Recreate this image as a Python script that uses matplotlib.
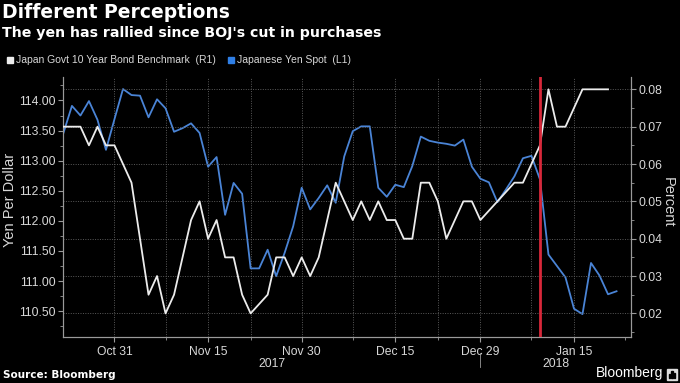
import matplotlib.pyplot as plt
import numpy as np
import pandas as pd
from matplotlib.patches import Rectangle

# business days shown on the chart (Bloomberg skips weekends)
days = pd.bdate_range("2017-10-23", "2018-01-23")

# Japanese Yen Spot (left axis), Oct 23 2017 .. Jan 22 2018
yen_spot = [113.46, 113.91, 113.75, 113.99, 113.68, 113.18, 113.69, 114.19, 114.09, 114.08,
            113.72, 114.02, 113.87, 113.48, 113.54, 113.62, 113.46, 112.90, 113.06, 112.10,
            112.63, 112.45, 111.21, 111.21, 111.52, 111.08, 111.47, 111.91, 112.55, 112.19,
            112.38, 112.59, 112.30, 113.07, 113.49, 113.57, 113.57, 112.55, 112.40, 112.60,
            112.56, 112.91, 113.40, 113.33, 113.30, 113.28, 113.25, 113.35, 112.90, 112.70,
            112.64, 112.31, 112.52, 112.74, 113.04, 113.08, 112.69, 111.44, 111.25, 111.06,
            110.54, 110.45, 111.30, 111.09, 110.78, 110.83]

# Japan Govt 10 Year Bond Benchmark yield (right axis), one day shorter
jgb_10y = [0.070, 0.070, 0.070, 0.065, 0.070, 0.065, 0.065, 0.060, 0.055, 0.040,
           0.025, 0.030, 0.020, 0.025, 0.035, 0.045, 0.050, 0.040, 0.045, 0.035,
           0.035, 0.025, 0.020, 0.0225, 0.025, 0.035, 0.035, 0.030, 0.035, 0.030,
           0.035, 0.045, 0.055, 0.050, 0.045, 0.050, 0.045, 0.050, 0.045, 0.045,
           0.040, 0.040, 0.055, 0.055, 0.050, 0.040, 0.045, 0.050, 0.050, 0.045,
           0.0475, 0.050, 0.0525, 0.055, 0.055, 0.060, 0.065, 0.080, 0.070, 0.070,
           0.075, 0.080, 0.080, 0.080, 0.080]

label_dates = ["2017-10-31", "2017-11-15", "2017-11-30", "2017-12-15", "2017-12-29", "2018-01-15"]
label_text = ["Oct 31", "Nov 15", "Nov 30", "Dec 15", "Dec 29", "Jan 15"]
minor_dates = ["2017-11-08", "2017-11-22", "2017-12-08", "2017-12-22", "2018-01-08", "2018-01-23"]
boj_cut = "2018-01-09"

BG = "black"
GRID = "#5a5a5a"
AXC = "#9a9a9a"
TXT = "#d8d8d8"
BLUE = "#4a84d6"
WHITE = "#ececec"

plt.rcParams['font.family'] = ['Liberation Sans', 'DejaVu Sans']

def pos(d):
  return days.get_loc(pd.Timestamp(d))

fig = plt.figure(figsize=(6.8, 3.83), dpi=100, facecolor=BG)
ax = fig.add_axes([63/680, 1-337/383, (631-63)/680, (337-77)/383])
ax.set_facecolor(BG)
ax2 = ax.twinx()

x_yen = np.arange(len(yen_spot))
x_jgb = np.arange(len(jgb_10y))
ax.plot(x_yen, yen_spot, color=BLUE, lw=1.3, zorder=3)
ax2.plot(x_jgb, jgb_10y, color=WHITE, lw=1.3, zorder=3)
ax2.axvline(pos(boj_cut), color="#d8283a", lw=2.0, zorder=5)

ax.set_xlim(-0.05, 66.7)
ax.set_ylim(110.07, 114.39)
ax2.set_ylim(0.01368, 0.0833)

# y axes
ax.set_yticks(np.arange(110.5, 114.01, 0.5))
ax.set_yticks(np.arange(110.25, 114.4, 0.25), minor=True)
ax.set_yticklabels([f"{v:.2f}" for v in np.arange(110.5, 114.01, 0.5)])
ax2.set_yticks(np.arange(0.02, 0.0801, 0.01))
ax2.set_yticks(np.arange(0.015, 0.083, 0.005), minor=True)
ax2.set_yticklabels([f"{v:.2f}" for v in np.arange(0.02, 0.0801, 0.01)])

# x axis
ax.set_xticks([pos(d) for d in label_dates])
ax.set_xticklabels(label_text)
ax.set_xticks([pos(d) for d in minor_dates], minor=True)

for a in (ax, ax2):
  for s in a.spines.values():
    s.set_color(AXC)
    s.set_linewidth(0.8)
  a.spines['top'].set_visible(False)
  a.tick_params(colors=AXC, labelcolor=TXT, labelsize=8.7, width=0.8)
  a.tick_params(which='major', length=3.5)
  a.tick_params(which='minor', length=2, color=AXC)
ax.tick_params(axis='x', pad=3)
ax.tick_params(axis='y', pad=2)
ax2.tick_params(axis='y', pad=2)

# grid: horizontal from the percent axis, vertical at date ticks inside the data
ax2.grid(axis='y', color=GRID, ls=(0, (1, 1.5)), lw=0.7)
for d in label_dates + minor_dates[:-1]:
  ax.axvline(pos(d), color=GRID, ls=(0, (1, 1.5)), lw=0.7, zorder=1)

ax.set_ylabel("Yen Per Dollar", color=TXT, fontsize=10.5, va='center')
ax.yaxis.set_label_coords(-0.093, 0.527)
ax2.set_ylabel("Percent", color=TXT, fontsize=10.5, rotation=270, va='center')
ax2.yaxis.set_label_coords(1.064, 0.52)

# year row under the date labels
yr_split = pos("2017-12-29")
ax.text((0 + yr_split) / 2, -0.105, "2017", transform=ax.get_xaxis_transform(),
        ha='center', va='center', color=TXT, fontsize=8.7)
ax.text((yr_split + 66.7) / 2, -0.105, "2018", transform=ax.get_xaxis_transform(),
        ha='center', va='center', color=TXT, fontsize=8.7)
ax.plot([yr_split, yr_split], [-0.06, -0.115], transform=ax.get_xaxis_transform(),
        color=AXC, lw=0.6, clip_on=False)

# titles
fig.text(2/680, 1-3/383, "Different Perceptions", color="white", fontsize=13.5,
         fontweight='bold', ha='left', va='top', family=['DejaVu Sans'])
fig.text(2/680, 1-26/383, "The yen has rallied since BOJ's cut in purchases", color="white",
         fontsize=10.2, fontweight='bold', ha='left', va='top', family=['DejaVu Sans'])

# legend
fig.patches.append(Rectangle((7/680, 1-63/383), 6/680, 6/383, transform=fig.transFigure,
                             color=WHITE))
fig.text(16/680, 1-60/383, "Japan Govt 10 Year Bond Benchmark  (R1)", color=TXT,
         fontsize=7.5, ha='left', va='center')
fig.patches.append(Rectangle((228/680, 1-63/383), 6/680, 6/383, transform=fig.transFigure,
                             color="#2f7fe6"))
fig.text(237/680, 1-60/383, "Japanese Yen Spot  (L1)", color=TXT,
         fontsize=7.5, ha='left', va='center')

# footer
fig.text(3/680, 1-375/383, "Source: Bloomberg", color="white", fontsize=7.5,
         fontweight='bold', ha='left', va='center', family=['DejaVu Sans'])
fig.text(663/680, 1-373/383, "Bloomberg", color="white", fontsize=10,
         ha='right', va='center')
fig.patches.append(Rectangle((667/680, 1-380/383), 10/680, 11/383, transform=fig.transFigure,
                             color="#dddddd"))
for i, h in enumerate([4, 7, 5]):
  fig.patches.append(Rectangle(((669 + 2.3*i)/680, 1-378/383), 1.4/680, h/383,
                               transform=fig.transFigure, color="black"))

fig.savefig("out.png", dpi=100, facecolor=BG)
